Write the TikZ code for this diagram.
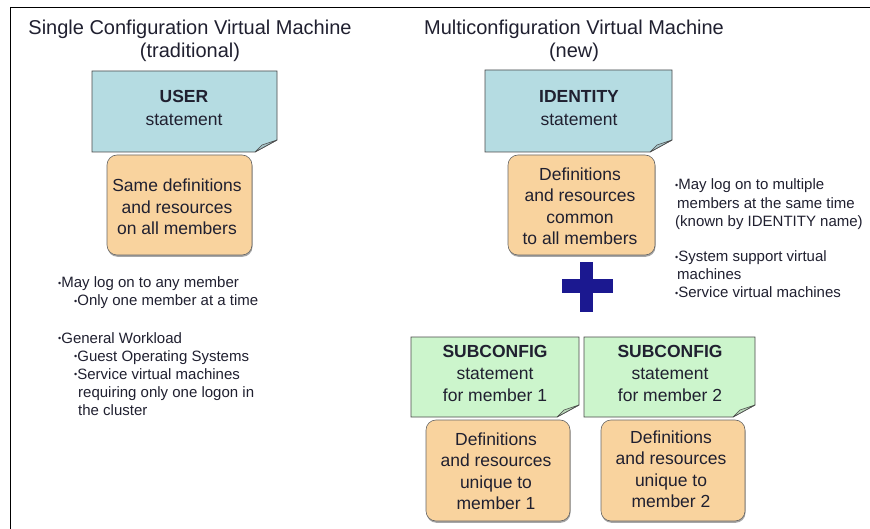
\documentclass[tikz,border=0pt]{standalone}
\usepackage{fontspec}
\setmainfont{Liberation Sans}
\definecolor{bluefill}{HTML}{B5DCE2}
\definecolor{greenfill}{HTML}{CCF5CC}
\definecolor{orangefill}{HTML}{F9D39E}
\definecolor{noteline}{HTML}{4A4A4A}
\definecolor{txt}{HTML}{202030}
\definecolor{plusblue}{HTML}{1B1890}
\newcommand\bul{\raisebox{1.5pt}{\fontsize{9}{9}\selectfont•}}
% note with folded corner: x1,y1,x2,y2,fill
\newcommand\foldnote[5]{%
  \path[draw=noteline, fill=#5, line width=0.8pt]
    (#1,#2) -- (#3,#2) -- (#3,{#4-12}) -- ({#3-22},#4) -- (#1,#4) -- cycle;
  \path[draw=noteline, fill=#5!75!gray, line width=0.6pt, line join=round]
    (#3,{#4-12}) .. controls ({#3-8},{#4-10}) .. ({#3-15},{#4-7}) -- ({#3-22},#4) -- cycle;
}
% rounded orange box: x1,y1,x2,y2
\newcommand\roundbox[4]{%
  \fill[gray!70, rounded corners=10pt] ({#1+0.5},{#2+1.5}) rectangle ({#3+0.5},{#4+1.8});
  \path[draw=gray!80!black, fill=orangefill, line width=0.6pt, rounded corners=10pt]
    (#1,#2) rectangle (#3,#4);
}
\begin{document}
\begin{tikzpicture}[x=1pt,y=-1pt,
  boxtxt/.style={inner sep=0pt, text=txt, font=\fontsize{17.5}{21}\selectfont, anchor=base},
  bultxt/.style={inner sep=0pt, text=txt, font=\fontsize{15}{18}\selectfont, anchor=base west},
  titletxt/.style={inner sep=0pt, text=txt, font=\fontsize{20}{24}\selectfont, anchor=base}]
\useasboundingbox (0,0) rectangle (870,529);
\fill[white] (0,0) rectangle (870,529);
% frame
\draw[line width=0.9pt] (10,7) -- (870,7);
\draw[line width=0.9pt] (10,7) -- (10,529);

% titles
\node[titletxt] (t1a) at (190,35) {Single Configuration Virtual Machine};
\node[titletxt] (t1b) at (190,58) {(traditional)};
\node[titletxt] (t2a) at (574,35) {Multiconfiguration Virtual Machine};
\node[titletxt] (t2b) at (574,58) {(new)};

% notes
\foldnote{92}{71}{277}{152}{bluefill}
\foldnote{485}{70}{672}{152}{bluefill}
\foldnote{411}{337}{579}{417}{greenfill}
\foldnote{584}{337}{755}{417}{greenfill}

% orange boxes
\roundbox{107}{155}{252}{255}
\roundbox{508}{155}{655}{255}
\roundbox{426}{420}{570}{521}
\roundbox{601}{420}{745}{521}

% USER
\node[boxtxt] (u1) at (184,103) {\bfseries USER};
\node[boxtxt] (u2) at (184,126) {statement};
\node[boxtxt] (s1) at (177,192) {Same definitions};
\node[boxtxt] (s2) at (177,213.5) {and resources};
\node[boxtxt] (s3) at (177,235) {on all members};

% IDENTITY
\node[boxtxt] (i1) at (579,103) {\bfseries IDENTITY};
\node[boxtxt] (i2) at (579,126) {statement};
\node[boxtxt] (c1) at (580,180.5) {Definitions};
\node[boxtxt] (c2) at (580,202) {and resources};
\node[boxtxt] (c3) at (580,223.5) {common};
\node[boxtxt] (c4) at (580,245) {to all members};

% SUBCONFIG 1
\node[boxtxt] (a1) at (495,357) {\bfseries SUBCONFIG};
\node[boxtxt] (a2) at (495,379) {statement};
\node[boxtxt] (a3) at (495,401.5) {for member 1};
\node[boxtxt] (d1) at (496,445) {Definitions};
\node[boxtxt] (d2) at (496,466.5) {and resources};
\node[boxtxt] (d3) at (496,488) {unique to};
\node[boxtxt] (d4) at (496,509.5) {member 1};

% SUBCONFIG 2
\node[boxtxt] (b1) at (670,357) {\bfseries SUBCONFIG};
\node[boxtxt] (b2) at (670,379) {statement};
\node[boxtxt] (b3) at (670,401.5) {for member 2};
\node[boxtxt] (e1) at (671,443) {Definitions};
\node[boxtxt] (e2) at (671,464.5) {and resources};
\node[boxtxt] (e3) at (671,486) {unique to};
\node[boxtxt] (e4) at (671,507.5) {member 2};

% plus
\fill[plusblue] (562,279) rectangle (613,293);
\fill[plusblue] (580,262) rectangle (593,312);

% left bullets
\node[bultxt] (l1) at (58,288) {\bul May log on to any member};
\node[bultxt] (l2) at (74,305.5) {\bul Only one member at a time};
\node[bultxt] (l3) at (58,343) {\bul General Workload};
\node[bultxt] (l4) at (74,361) {\bul Guest Operating Systems};
\node[bultxt] (l5) at (74,379) {\bul Service virtual machines};
\node[bultxt] (l6) at (78,397) {requiring only one logon in};
\node[bultxt] (l7) at (78,415) {the cluster};

% right bullets
\node[bultxt] (r1) at (675,190) {\bul May log on to multiple};
\node[bultxt] (r2) at (677,208.5) {members at the same time};
\node[bultxt] (r3) at (675,227) {(known by IDENTITY name)};
\node[bultxt] (r4) at (675,262) {\bul System support virtual};
\node[bultxt] (r5) at (677,280) {machines};
\node[bultxt] (r6) at (675,298) {\bul Service virtual machines};
\end{tikzpicture}
\end{document}
